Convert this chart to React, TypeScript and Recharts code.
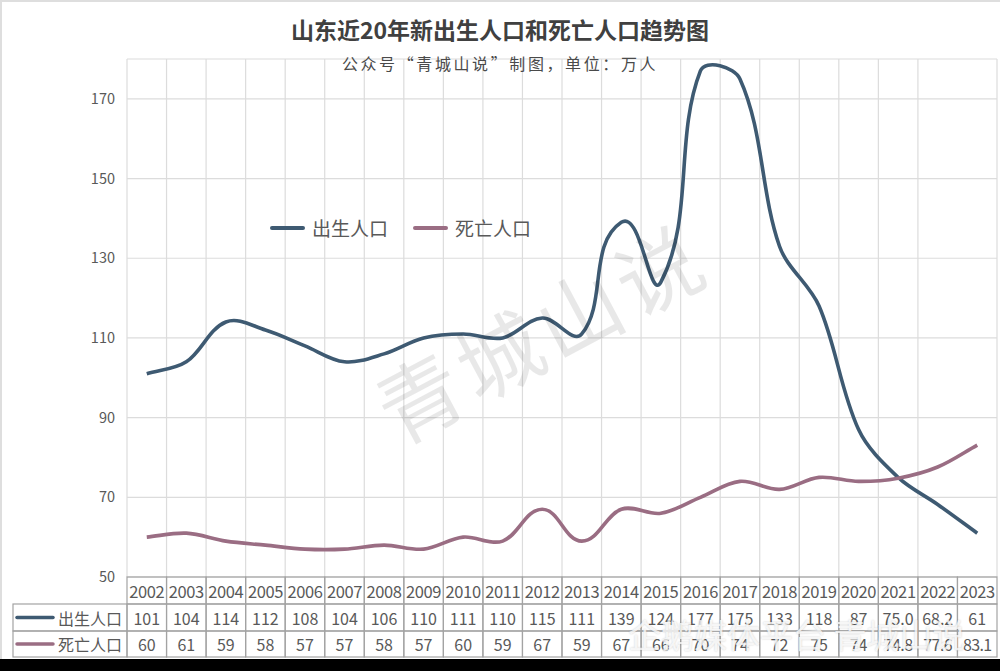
import React from "react";
import { LineChart, Line, XAxis, YAxis, CartesianGrid } from "recharts";

const years = ["2002","2003","2004","2005","2006","2007","2008","2009","2010","2011","2012","2013","2014","2015","2016","2017","2018","2019","2020","2021","2022","2023"];
const births = [101,104,114,112,108,104,106,110,111,110,115,111,139,124,177,175,133,118,87,75.0,68.2,61];
const deaths = [60,61,59,58,57,57,58,57,60,59,67,59,67,66,70,74,72,75,74,74.8,77.6,83.1];
const birthLabels = ["101","104","114","112","108","104","106","110","111","110","115","111","139","124","177","175","133","118","87","75.0","68.2","61"];
const deathLabels = ["60","61","59","58","57","57","58","57","60","59","67","59","67","66","70","74","72","75","74","74.8","77.6","83.1"];
const yTicks = [50, 70, 90, 110, 130, 150, 170];

const BIRTH = "#3e5a72";
const DEATH = "#9a6d83";
const TXT = "#595959";
const FONT = "'Noto Sans CJK SC', 'Noto Sans', sans-serif";

const data = years.map((y, i) => ({ i, year: y, birth: births[i], death: deaths[i] }));
const mainTicks = years.map((_, i) => i);
const gridTicks = [...years.map((_, i) => i - 0.5), years.length - 0.5];

const W = 1000;
const H = 660;
const M = { top: 59, right: 3, left: 0, bottom: 0 };
const Y_W = 127;
const X_H = 83;
const CELL = (W - M.left - M.right - Y_W) / years.length;
const ROWS = [27, 27, 26];

// Excel-like smoothed line: bezier with chord-length scaled tangents
const smoothCurve = (context: any) => {
  let pts: number[][] = [];
  const dist = (a: number[], b: number[]) => Math.hypot(b[0] - a[0], b[1] - a[1]);
  return {
    areaStart() {},
    areaEnd() {},
    lineStart() { pts = []; },
    point(x: number, y: number) { pts.push([+x, +y]); },
    lineEnd() {
      const n = pts.length;
      if (!n) return;
      context.moveTo(pts[0][0], pts[0][1]);
      for (let k = 0; k < n - 1; k++) {
        const p0 = pts[k - 1] || pts[k];
        const p1 = pts[k];
        const p2 = pts[k + 1];
        const p3 = pts[k + 2] || p2;
        const seg = dist(p1, p2);
        const t1 = [p2[0] - p0[0], p2[1] - p0[1]];
        const t2 = [p3[0] - p1[0], p3[1] - p1[1]];
        const l1 = Math.hypot(t1[0], t1[1]) || 1;
        const l2 = Math.hypot(t2[0], t2[1]) || 1;
        const s = seg / 3;
        context.bezierCurveTo(
          p1[0] + (t1[0] / l1) * s, p1[1] + (t1[1] / l1) * s,
          p2[0] - (t2[0] / l2) * s, p2[1] - (t2[1] / l2) * s,
          p2[0], p2[1]
        );
      }
    },
  };
};

const TableTick = (props: any) => {
  const { x, y, payload } = props;
  const i = payload.value as number;
  const left = x - CELL / 2;
  const r1 = y + ROWS[0];
  const r2 = r1 + ROWS[1];
  const stroke = "#a3a3a3";
  return (
    <g>
      <rect x={left} y={y} width={CELL} height={ROWS[0]} fill="none" stroke={stroke} strokeWidth={1.2} />
      <rect x={left} y={r1} width={CELL} height={ROWS[1]} fill="none" stroke={stroke} strokeWidth={1.2} />
      <rect x={left} y={r2} width={CELL} height={ROWS[2]} fill="none" stroke={stroke} strokeWidth={1.2} />
      <text x={x} y={y + ROWS[0] / 2} textAnchor="middle" dominantBaseline="central" fontSize={16.5} fill={TXT} fontFamily={FONT} letterSpacing={-0.4}>{years[i]}</text>
      <text x={x} y={r1 + ROWS[1] / 2} textAnchor="middle" dominantBaseline="central" fontSize={16} fill={TXT} fontFamily={FONT}>{birthLabels[i]}</text>
      <text x={x} y={r2 + ROWS[2] / 2} textAnchor="middle" dominantBaseline="central" fontSize={16} fill={TXT} fontFamily={FONT} letterSpacing={deathLabels[i].length > 3 ? -0.6 : 0}>{deathLabels[i]}</text>
      {i === 0 && (
        <g>
          <rect x={13} y={r1} width={left - 13} height={ROWS[1]} fill="none" stroke={stroke} strokeWidth={1.2} />
          <rect x={13} y={r2} width={left - 13} height={ROWS[2]} fill="none" stroke={stroke} strokeWidth={1.2} />
          <line x1={17} x2={53} y1={r1 + ROWS[1] / 2} y2={r1 + ROWS[1] / 2} stroke={BIRTH} strokeWidth={3.5} strokeLinecap="round" />
          <line x1={17} x2={53} y1={r2 + ROWS[2] / 2} y2={r2 + ROWS[2] / 2} stroke={DEATH} strokeWidth={3.5} strokeLinecap="round" />
          <text x={58} y={r1 + ROWS[1] / 2} dominantBaseline="central" fontSize={16} fill={TXT} fontFamily={FONT}>出生人口</text>
          <text x={58} y={r2 + ROWS[2] / 2} dominantBaseline="central" fontSize={16} fill={TXT} fontFamily={FONT}>死亡人口</text>
        </g>
      )}
    </g>
  );
};

export default function App() {
  return (
    <div style={{ position: "absolute", left: 0, top: 0, width: 1000, height: 671, background: "#fff", overflow: "hidden" }}>
      <div style={{ position: "absolute", left: 0, top: 0, width: 1000, height: 2, background: "#dedede" }} />
      <div style={{ position: "absolute", left: 0, top: 0, width: 2, height: 659, background: "#dedede" }} />
      <div style={{ position: "absolute", left: 0, top: 659, width: 1000, height: 12, background: "#000" }} />
      <div style={{ position: "absolute", left: 0, top: 0 }}>
        <LineChart width={W} height={H} data={data} margin={M}>
          <CartesianGrid xAxisId="grid" stroke="#dcdcdc" strokeWidth={1.2} />
          <XAxis xAxisId="grid" orientation="top" height={0} dataKey="i" type="number" domain={[-0.5, years.length - 0.5]} ticks={gridTicks} hide />
          <XAxis
            xAxisId="main"
            dataKey="i"
            type="number"
            domain={[-0.5, years.length - 0.5]}
            ticks={mainTicks}
            interval={0}
            height={X_H}
            axisLine={false}
            tickLine={false}
            tickSize={0}
            tickMargin={0}
            tick={<TableTick />}
          />
          <YAxis
            domain={[50, 180]}
            ticks={yTicks}
            width={Y_W}
            axisLine={false}
            tickLine={false}
            tickSize={0}
            tickMargin={12}
            tick={{ fill: TXT, fontSize: 14.5, fontFamily: FONT }}
          />
          <Line xAxisId="main" dataKey="birth" name="出生人口" type={smoothCurve as any} stroke={BIRTH} strokeWidth={3.6} dot={false} isAnimationActive={false} />
          <Line xAxisId="main" dataKey="death" name="死亡人口" type={smoothCurve as any} stroke={DEATH} strokeWidth={3.6} dot={false} isAnimationActive={false} />
        </LineChart>
      </div>
      <div style={{ position: "absolute", left: 270, top: 214, display: "flex", alignItems: "center", fontFamily: FONT, fontSize: 19, color: TXT, lineHeight: "28px" }}>
        <span style={{ display: "inline-block", width: 35, height: 3.5, background: BIRTH, borderRadius: 2, marginRight: 7 }} />
        <span style={{ marginRight: 25 }}>出生人口</span>
        <span style={{ display: "inline-block", width: 35, height: 3.5, background: DEATH, borderRadius: 2, marginRight: 7 }} />
        <span>死亡人口</span>
      </div>
      <div style={{ position: "absolute", left: 0, top: 13, width: 1000, textAlign: "center", fontFamily: FONT, fontWeight: 700, fontSize: 23, color: "#404040", lineHeight: "32px" }}>
        山东近20年新出生人口和死亡人口趋势图
      </div>
      <div style={{ position: "absolute", left: 0, top: 51, width: 1000, textAlign: "center", fontFamily: FONT, fontSize: 16, letterSpacing: 2.6, color: "#4a4a4a", lineHeight: "24px" }}>
        公众号“青城山说”制图，单位：万人
      </div>
      <div style={{ position: "absolute", left: 330, top: 280, width: 420, textAlign: "center", fontFamily: FONT, fontSize: 84, letterSpacing: 6, color: "rgba(0,0,0,0.09)", transform: "rotate(-28deg)", lineHeight: "100px", pointerEvents: "none", whiteSpace: "nowrap" }}>
        青城山说
      </div>
      <div style={{ position: "absolute", left: 628, top: 614, fontFamily: FONT, fontSize: 33, color: "rgba(255,255,255,0.8)", textShadow: "0 0 2px rgba(0,0,0,0.2)", lineHeight: "40px", whiteSpace: "nowrap", pointerEvents: "none" }}>
        企鹅媒体平台 青城山说
      </div>
    </div>
  );
}
